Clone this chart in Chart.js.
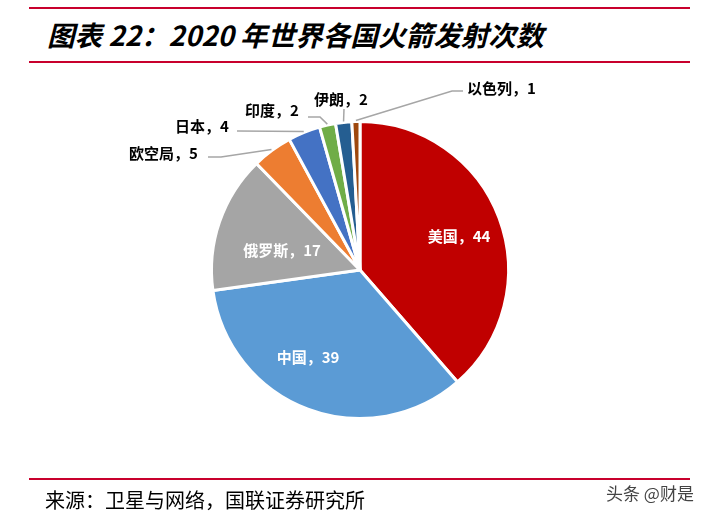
<!DOCTYPE html>
<html>
<head>
<meta charset="utf-8">
<script src="https://cdn.jsdelivr.net/npm/chart.js@4"></script>
<style>
  html, body { margin: 0; padding: 0; background: #fff; }
  #wrap { position: relative; width: 706px; height: 519px; overflow: hidden; }
  #chart { position: absolute; left: 0; top: 0; }
  .rule { position: absolute; left: 29px; width: 661px; height: 2px; background: #c8002d; }
  #title { position: absolute; left: 47px; top: 16px; font: italic bold 27.6px "Noto Sans CJK SC", sans-serif; color: #000; white-space: nowrap; line-height: 36px; }
  #source { position: absolute; left: 45px; top: 487px; font: 20px "Noto Sans CJK SC", serif; color: #000; white-space: nowrap; line-height: 26px; }
  #mark { position: absolute; left: 606px; top: 482px; font: 17px "Noto Sans CJK SC", sans-serif; color: #444; white-space: nowrap; line-height: 22px; }
</style>
</head>
<body>
<div id="wrap">
  <div class="rule" style="top:7px"></div>
  <div id="title">图表 22：2020 年世界各国火箭发射次数</div>
  <div class="rule" style="top:61px"></div>
  <canvas id="chart" width="706" height="519"></canvas>
  <div class="rule" style="top:478px"></div>
  <div id="source">来源：卫星与网络，国联证券研究所</div>
  <div id="mark">头条 @财是</div>
</div>
<script>
const countries = ['美国', '中国', '俄罗斯', '欧空局', '日本', '印度', '伊朗', '以色列'];
const launches = [44, 39, 17, 5, 4, 2, 2, 1];
const sliceColors = ['#c00000', '#5b9bd5', '#a5a5a5', '#ed7d31', '#4472c4', '#70ad47', '#255e91', '#9e480e'];

// where each label goes: inside labels sit on the slice, outside ones get a leader line
const labelLayout = [
  { inside: true, x: 459, y: 236 },
  { inside: true, x: 308, y: 357 },
  { inside: true, x: 282, y: 250 },
  { inside: false, x: 129, y: 153, path: [[208, 157], [221, 157]] },
  { inside: false, x: 175, y: 126, path: [[237, 131]] },
  { inside: false, x: 245, y: 110, path: [[308, 117], [320, 117]] },
  { inside: false, x: 314, y: 99, path: [[344, 109]] },
  { inside: false, x: 467, y: 88, path: [[463, 91], [452, 91]] },
];

const labelPlugin = {
  id: 'sliceLabels',
  afterDatasetsDraw(chart) {
    const ctx = chart.ctx;
    const meta = chart.getDatasetMeta(0);
    ctx.save();
    ctx.font = 'bold 15px "Noto Sans CJK SC", sans-serif';
    ctx.textBaseline = 'middle';
    meta.data.forEach((arc, i) => {
      const lay = labelLayout[i];
      const text = countries[i] + '，' + launches[i];
      if (lay.inside) {
        ctx.fillStyle = '#fff';
        ctx.textAlign = 'center';
        ctx.fillText(text, lay.x, lay.y);
        return;
      }
      const mid = (arc.startAngle + arc.endAngle) / 2;
      const ex = arc.x + Math.cos(mid) * (arc.outerRadius + 1);
      const ey = arc.y + Math.sin(mid) * (arc.outerRadius + 1);
      ctx.strokeStyle = '#a6a6a6';
      ctx.lineWidth = 1.5;
      ctx.beginPath();
      ctx.moveTo(lay.path[0][0], lay.path[0][1]);
      lay.path.slice(1).forEach(p => ctx.lineTo(p[0], p[1]));
      ctx.lineTo(ex, ey);
      ctx.stroke();
      ctx.fillStyle = '#000';
      ctx.textAlign = 'left';
      ctx.fillText(text, lay.x, lay.y);
    });
    ctx.restore();
  }
};

new Chart(document.getElementById('chart'), {
  type: 'pie',
  data: {
    labels: countries,
    datasets: [{
      data: launches,
      backgroundColor: sliceColors,
      borderColor: '#fff',
      borderWidth: 3,
    }],
  },
  options: {
    responsive: false,
    animation: false,
    layout: { padding: { left: 210, right: 196, top: 120, bottom: 99 } },
    plugins: {
      legend: { display: false },
      tooltip: { enabled: false },
    },
  },
  plugins: [labelPlugin],
});
</script>
</body>
</html>
